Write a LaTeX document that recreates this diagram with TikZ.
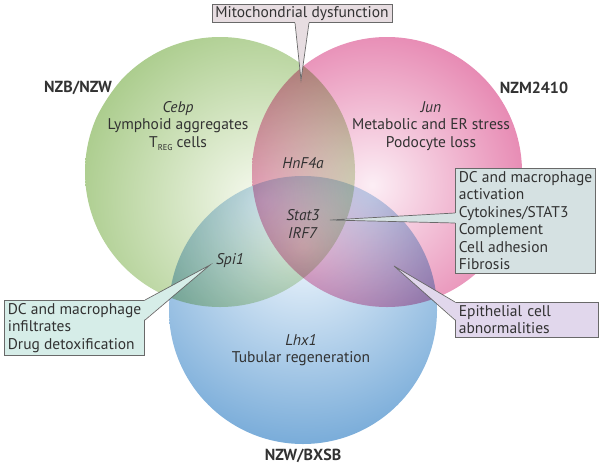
\documentclass[tikz,border=0pt]{standalone}
\usepackage{fontspec}
\setmainfont{PT Sans}
\usetikzlibrary{positioning}

\definecolor{greenin}{RGB}{247,250,240}
\definecolor{greenout}{RGB}{172,205,142}
\definecolor{pinkin}{RGB}{252,238,245}
\definecolor{pinkout}{RGB}{228,124,170}
\definecolor{bluein}{RGB}{240,247,253}
\definecolor{blueout}{RGB}{118,170,216}
\definecolor{textgray}{RGB}{50,50,50}
\definecolor{edgegray}{RGB}{105,105,105}
\definecolor{mitofill}{RGB}{231,221,225}
\definecolor{statfill}{RGB}{213,225,226}
\definecolor{inflfill}{RGB}{214,237,232}
\definecolor{epifill}{RGB}{225,215,236}

\tikzset{
  strain/.style={font=\fontsize{16}{18}\selectfont\bfseries, text=textgray, inner sep=0pt},
  inset/.style={font=\fontsize{15.5}{17.5}\selectfont, text=textgray, align=center, inner sep=0pt},
  callout/.style={draw=edgegray, line width=0.7pt, font=\fontsize{15.5}{17.5}\selectfont,
    text=textgray, align=left, inner xsep=3.5pt, inner ysep=3pt},
  wedge/.style={draw=edgegray, line width=0.7pt}
}
\newcommand{\treg}{T\raisebox{-0.45ex}{\fontsize{8.5}{8.5}\selectfont REG}}

\begin{document}
\begin{tikzpicture}[x=1pt, y=-1pt]
    \useasboundingbox (0,0) rectangle (604,466);

    % the three strains
    \begin{scope}[blend group=multiply]
      \begin{scope}
        \clip (220,172) circle (135pt);
        \shade[inner color=greenin, outer color=greenout] (262,200) circle (185pt);
      \end{scope}
      \begin{scope}
        \clip (387,172) circle (135pt);
        \shade[inner color=pinkin, outer color=pinkout] (372,185) circle (178pt);
      \end{scope}
      \begin{scope}
        \clip (303,310) circle (134pt);
        \shade[inner color=bluein, outer color=blueout] (303,245) circle (205pt);
      \end{scope}
    \end{scope}

    \node[strain] (nzb) at (78,88) {NZB/NZW};
    \node[strain] (nzm) at (534,88) {NZM2410};
    \node[strain] (bxsb) at (303,456) {NZW/BXSB};

    \node[inset] (greentxt) at (178,126) {\textit{Cebp}\\Lymphoid aggregates\\\treg{} cells};
    \node[inset] (pinktxt) at (431,126) {\textit{Jun}\\Metabolic and ER stress\\Podocyte loss};
    \node[inset] (hnf) at (303,163) {\textit{HnF4a}};
    \node[inset] (stat) at (303,224) {\textit{Stat3}\\\textit{IRF7}};
    \node[inset] (spi) at (230,261) {\textit{Spi1}};
    \node[inset] (bluetxt) at (301,350) {\textit{Lhx1}\\Tubular regeneration};

    % callouts
    \coordinate (mitotip) at (301,80);
    \coordinate (stattip) at (330,220);
    \coordinate (spitip) at (210,265);
    \coordinate (epitip) at (394,266);

    \node[callout, fill=mitofill, anchor=north, inner ysep=2pt] (mito) at (302,4) {Mitochondrial dysfunction};
    \node[callout, fill=statfill, anchor=north west] (statbox) at (455,168)
      {DC and macrophage\\activation\\Cytokines/STAT3\\Complement\\Cell adhesion\\Fibrosis};
    \node[callout, fill=inflfill, anchor=north west] (infl) at (4,300)
      {DC and macrophage\\infiltrates\\Drug detoxification};
    \node[callout, fill=epifill, anchor=north west, text width=136pt] (epi) at (455,302)
      {Epithelial cell\\abnormalities};

    \fill[mitofill] (mitotip) -- ([shift={(-7pt,1pt)}]mito.south) -- ([shift={(7pt,1pt)}]mito.south) -- cycle;
    \draw[wedge] ([xshift=-7pt]mito.south) -- (mitotip) -- ([xshift=7pt]mito.south);

    \fill[statfill] (stattip) -- ([shift={(1pt,-45pt)}]statbox.north west) -- ([shift={(1pt,-55pt)}]statbox.north west) -- cycle;
    \draw[wedge] ([yshift=-45pt]statbox.north west) -- (stattip) -- ([yshift=-55pt]statbox.north west);

    \fill[inflfill] (spitip) -- ([shift={(-1pt,-1pt)}]infl.north east) -- ([shift={(-1pt,-20pt)}]infl.north east) -- cycle;
    \draw[wedge] (infl.north east) -- (spitip) -- ([yshift=-20pt]infl.north east);

    \fill[epifill] (epitip) -- ([shift={(1pt,-1pt)}]epi.north west) -- ([shift={(1pt,-18pt)}]epi.north west) -- cycle;
    \draw[wedge] (epi.north west) -- (epitip) -- ([yshift=-18pt]epi.north west);
\end{tikzpicture}
\end{document}
